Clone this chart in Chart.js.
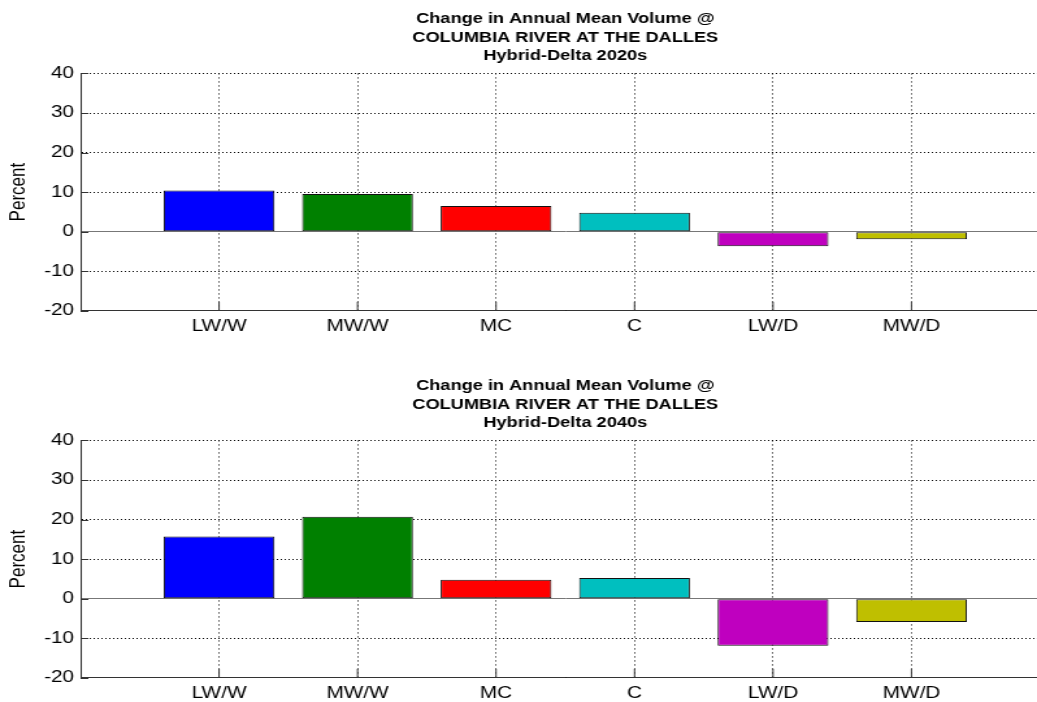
<!DOCTYPE html>
<html>
<head>
<meta charset="utf-8">
<script src="https://cdn.jsdelivr.net/npm/chart.js@4.4.1/dist/chart.umd.min.js"></script>
<style>
  html, body { margin:0; padding:0; background:#fff; overflow:hidden; }
  .panel { width:1050px; height:342px; }
  .panel + .panel { margin-top:25px; }
  /* the reference figure is stretched sideways, so the canvas is too */
  .panel canvas { display:block; width:1050px !important; height:342px !important; }
</style>
</head>
<body>
<div class="panel"><canvas id="c2020" width="808" height="342"></canvas></div>
<div class="panel"><canvas id="c2040" width="808" height="342"></canvas></div>
<script>
const scenarios = ['LW/W', 'MW/W', 'MC', 'C', 'LW/D', 'MW/D'];
const change2020s = [10.4, 9.5, 6.5, 4.8, -3.7, -1.9];
const change2040s = [15.7, 20.7, 4.8, 5.2, -11.9, -5.9];
const barColors = ['#0000ff', '#008000', '#ff0000', '#00bfbf', '#bf00bf', '#bfbf00'];
const yTicks = [-20, -10, 0, 10, 20, 30, 40];
const titleLines = ['Change in Annual Mean Volume @', 'COLUMBIA RIVER AT THE DALLES'];

const FONT = '"Liberation Sans", Arial, Helvetica, sans-serif';
const AXIS = '#333';

// matlab style: tick marks point into the plot
const inwardTicks = {
  id: 'inwardTicks',
  afterDatasetsDraw(chart){
    const {ctx, chartArea, scales} = chart;
    ctx.save();
    ctx.strokeStyle = AXIS;
    ctx.lineWidth = 1;
    ctx.beginPath();
    scales.y.ticks.forEach(t => {
      const py = Math.round(scales.y.getPixelForValue(t.value)) + 0.5;
      ctx.moveTo(chartArea.left, py); ctx.lineTo(chartArea.left + 6, py);
    });
    scales.x.ticks.forEach(t => {
      const px = scales.x.getPixelForValue(t.value);
      ctx.moveTo(px, chartArea.bottom); ctx.lineTo(px, chartArea.bottom - 9);
    });
    ctx.stroke();
    ctx.restore();
  }
};

function makeChart(id, values, period){
  const ctx = document.getElementById(id).getContext('2d');
  return new Chart(ctx, {
    type: 'bar',
    data: {
      datasets: [{
        data: values.map((v, i) => ({ x: i + 1, y: v })),
        backgroundColor: barColors,
        borderColor: '#111',
        borderWidth: 1,
        borderSkipped: false,
        barPercentage: 0.8,
        categoryPercentage: 1.0
      }]
    },
    options: {
      responsive: false,
      devicePixelRatio: 1,
      animation: false,
      events: [],
      layout: { padding: 0 },
      plugins: {
        legend: { display: false },
        tooltip: { enabled: false },
        title: {
          display: true,
          text: [...titleLines, `Hybrid-Delta ${period}`],
          fullSize: false,
          color: '#000',
          font: { family: FONT, size: 14, weight: 'bold', lineHeight: 1.32 },
          padding: { top: 10, bottom: 8 }
        }
      },
      scales: {
        x: {
          type: 'linear',
          min: 0, max: 7,
          offset: false,
          afterBuildTicks: s => { s.ticks = scenarios.map((_, i) => ({ value: i + 1 })); },
          ticks: {
            autoSkip: false, maxRotation: 0, padding: 6,
            color: '#000',
            font: { family: FONT, size: 16 },
            callback: v => scenarios[v - 1]
          },
          grid: { offset: false, color: '#000', drawTicks: false },
          border: { display: true, color: AXIS, width: 1, dash: [1, 3] }
        },
        y: {
          min: -20, max: 40,
          afterBuildTicks: s => { s.ticks = yTicks.map(v => ({ value: v })); },
          afterFit: s => { s.width = 62; },
          ticks: { padding: 5, color: '#000', font: { family: FONT, size: 16 } },
          title: {
            display: true, text: 'Percent', color: '#000',
            font: { family: FONT, size: 17 },
            padding: { top: 4, bottom: 0 }
          },
          grid: {
            drawTicks: false,
            color: c => c.tick && c.tick.value === 0 ? '#777' : '#000'
          },
          border: {
            display: true, color: AXIS, width: 1,
            dash: c => c.tick && c.tick.value === 0 ? [] : [1, 2]
          }
        }
      }
    },
    plugins: [inwardTicks]
  });
}

makeChart('c2020', change2020s, '2020s');
makeChart('c2040', change2040s, '2040s');
</script>
</body>
</html>
